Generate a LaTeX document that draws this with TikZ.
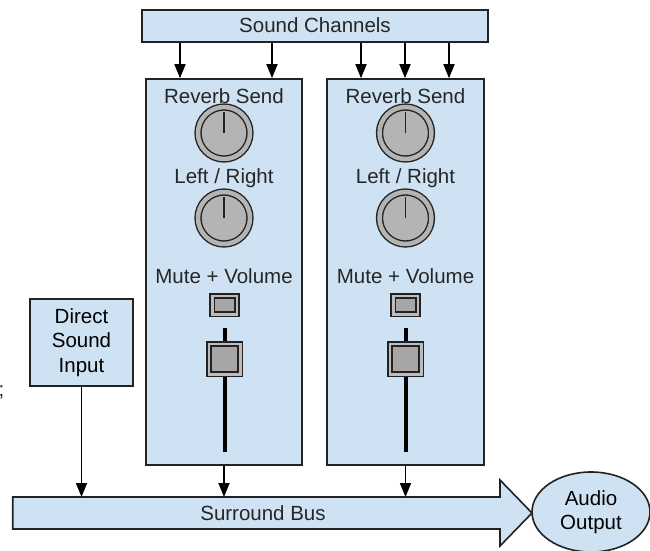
\documentclass[tikz,border=0pt]{standalone}
\usepackage{fontspec}
\setmainfont{Liberation Sans}
\usetikzlibrary{arrows.meta,shapes.geometric}
\definecolor{panelblue}{HTML}{CFE2F3}
\definecolor{edgegray}{HTML}{222222}
\definecolor{knobgray}{HTML}{B4B4B4}
\definecolor{capgray}{HTML}{A6A6A6}

\begin{document}
\begin{tikzpicture}[
  x=1pt,
  y=-1pt,
  font=\fontsize{20.5}{24.5}\selectfont,
  box/.style={
    draw=edgegray,
    fill=panelblue,
    line width=1.6pt,
    inner sep=0pt
  },
  strip/.style={box, minimum width=156pt, minimum height=386pt},
  caption/.style={anchor=base, text=black!85, inner sep=0pt},
  knob/.style={
    circle,
    draw=edgegray,
    line width=1.4pt,
    double=knobgray,
    double distance=4.5pt,
    fill=knobgray,
    minimum size=52pt,
    inner sep=0pt
  },
  pointer/.style={draw=edgegray, line width=1.5pt},
  capbox/.style={
    rectangle,
    draw=edgegray,
    line width=1.8pt,
    double=capgray!75,
    double distance=2.5pt,
    fill=capgray,
    inner sep=0pt
  },
  track/.style={draw=black, line width=4pt},
  flow/.style={draw=black, line width=1.7pt, -{Triangle[length=14pt,width=11pt]}}
]
\useasboundingbox (0,0) rectangle (650,551);

% Channel source and the two mixer strips.
\node[box, minimum width=346pt, minimum height=32pt] (chan) at (315,26) {};
\node[caption] (chantext) at (315,33) {Sound Channels};
\node[strip] (stripL) at (224,272) {};
\node[strip, minimum width=157pt] (stripR) at (405.5,272) {};

\coordinate (inL1) at (180,0);
\coordinate (inL2) at (272,0);
\coordinate (inR1) at (361,0);
\coordinate (inR2) at (405,0);
\coordinate (inR3) at (449,0);
\draw[flow] (inL1 |- chan.south) -- (inL1 |- stripL.north);
\draw[flow] (inL2 |- chan.south) -- (inL2 |- stripL.north);
\draw[flow] (inR1 |- chan.south) -- (inR1 |- stripR.north);
\draw[flow] (inR2 |- chan.south) -- (inR2 |- stripR.north);
\draw[flow] (inR3 |- chan.south) -- (inR3 |- stripR.north);

% Left strip controls.
\node[caption] (revL) at (224,103) {Reverb Send};
\node[knob] (knobL1) at (224,133) {};
\draw[pointer] (knobL1.center) -- ++(0,-21);
\node[caption] (panL) at (224,183) {Left / Right};
\node[knob] (knobL2) at (224,218) {};
\draw[pointer] (knobL2.center) -- ++(0,-21);
\node[caption] (muteL) at (224,283) {Mute + Volume};
\node[capbox, minimum width=24.5pt, minimum height=18.5pt] (btnL) at (224.5,305) {};
\draw[track] (224.5,328) -- (224.5,452);
\node[capbox, minimum width=31.5pt, minimum height=30.5pt] (faderL) at (224.5,359) {};

% Right strip controls.
\node[caption] (revR) at (405.5,103) {Reverb Send};
\node[knob] (knobR1) at (405.5,133) {};
\draw[pointer] (knobR1.center) -- ++(0,-21);
\node[caption] (panR) at (405.5,183) {Left / Right};
\node[knob] (knobR2) at (405.5,218) {};
\draw[pointer] (knobR2.center) -- ++(0,-21);
\node[caption] (muteR) at (405.5,283) {Mute + Volume};
\node[capbox, minimum width=24.5pt, minimum height=18.5pt] (btnR) at (405.5,305) {};
\draw[track] (405.5,328) -- (405.5,452);
\node[capbox, minimum width=31.5pt, minimum height=30.5pt] (faderR) at (405.5,359) {};

% Direct input, bus and output.
\node[box, minimum width=103pt, minimum height=87pt, align=center] (direct) at (81.5,342.5)
  {Direct\\Sound\\Input};
\node[caption, anchor=base west] (stray) at (-1.5,396) {;};

\draw[box] (12.7,497) -- (500,497) -- (500,480) -- (532,513) -- (500,546)
  -- (500,529) -- (12.7,529) -- cycle;
\coordinate (bustop) at (0,497);
\node[caption] (bus) at (263,520) {Surround Bus};
\node[box, ellipse, minimum width=118pt, minimum height=80pt, align=center] (audio) at (591,512)
  {Audio\\Output};

\draw[flow] (direct.south) -- (direct.south |- bustop);
\draw[flow] (stripL.south) -- (stripL.south |- bustop);
\draw[flow] (stripR.south) -- (stripR.south |- bustop);

\end{tikzpicture}
\end{document}
